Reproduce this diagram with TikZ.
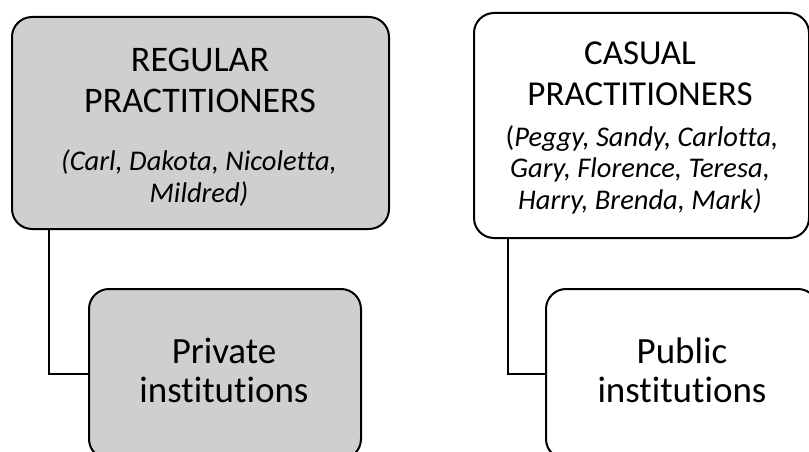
\documentclass[tikz,border=0pt]{standalone}
\usepackage{fontspec}
\setmainfont{Carlito}[Ligatures=NoCommon]
\definecolor{boxgray}{RGB}{208,206,206}
\begin{document}
\begin{tikzpicture}[x=1pt,y=-1pt,
  card/.style={draw=black, line width=2pt, rounded corners=20pt, inner sep=0pt, anchor=north west},
  shaded/.style={card, fill=boxgray},
  plain/.style={card, fill=white},
  link/.style={draw=black, line width=2pt},
  txt/.style={anchor=base, inner sep=0pt, text=black},
  bigtitle/.style={txt, font=\fontsize{36}{41}\selectfont},
  names/.style={txt, font=\fontsize{28.5}{32}\selectfont\itshape},
  inst/.style={txt, font=\fontsize{37}{41}\selectfont}]
\useasboundingbox (0,0) rectangle (809,452);

% upper boxes
\node[shaded, minimum width=377pt, minimum height=212pt] (regular) at (11,16) {};
\node[plain, minimum width=335pt, minimum height=225pt] (casual) at (473,12) {};

% lower boxes
\node[shaded, minimum width=272pt, minimum height=170pt] (private) at (88,288) {};
\node[plain, minimum width=272pt, minimum height=170pt] (public) at (545,288) {};

% connectors
\draw[link] ([xshift=38pt]regular.south west) |- (private.west);
\draw[link] ([xshift=35pt]casual.south west) |- (public.west);

% texts of the regular group
\node[bigtitle] (regA) at (200,72) {REGULAR};
\node[bigtitle] (regB) at (200,113) {PRACTITIONERS};
\node[names] (regC) at (199,170) {(Carl, Dakota, Nicoletta,};
\node[names] (regD) at (199,202) {Mildred)};

% texts of the casual group
\node[bigtitle, font=\fontsize{35}{40}\selectfont] (casA) at (640,65) {CASUAL};
\node[bigtitle, font=\fontsize{35}{40}\selectfont] (casB) at (640,106) {PRACTITIONERS};
\node[names] (casC) at (642,146) {{\upshape(}Peggy, Sandy, Carlotta,};
\node[names] (casD) at (640,177) {Gary, Florence, Teresa,};
\node[names] (casE) at (640,209) {Harry, Brenda, Mark)};

% texts of the lower boxes
\node[inst] (privA) at (224,363) {Private};
\node[inst] (privB) at (224,402) {institutions};
\node[inst] (pubA) at (682,363) {Public};
\node[inst] (pubB) at (682,402) {institutions};
\end{tikzpicture}
\end{document}
